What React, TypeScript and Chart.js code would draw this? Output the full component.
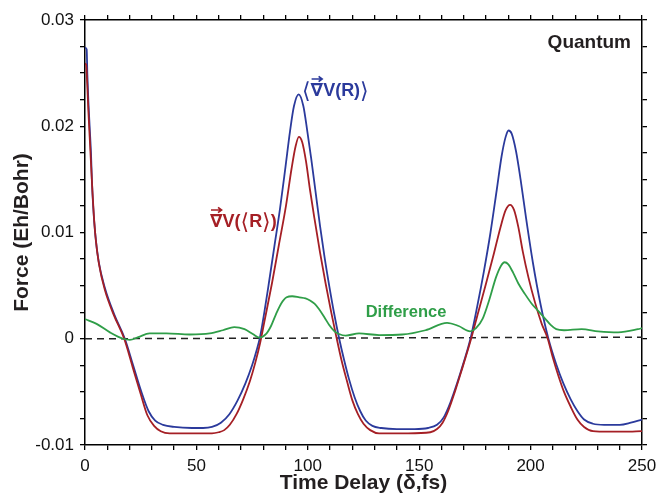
import { useEffect, useRef } from 'react';
import { Chart, registerables } from 'chart.js';

Chart.register(...registerables);

// Time axis (fs) and force values (Eh/Bohr)
const blueT = [0, 0.75, 1.05, 1.5, 2.1, 2.7, 3.1, 3.7, 4.6, 6.1, 8.9, 13.1, 17.9, 21.6, 25.3, 28.5, 31.5, 35, 40, 48, 53, 57, 61, 64.8, 68.5, 72, 75, 77, 78.6, 80.5, 82.5, 85, 87.5, 90, 92, 93.8, 95.9, 98, 99.8, 101.5, 103.5, 105.5, 107.5, 109.6, 111.8, 114, 116.3, 118.5, 121, 123.5, 126, 129, 133, 140, 148, 154, 158, 161, 164, 167, 170, 173, 176, 179, 182, 184.8, 187, 188.8, 190.1, 191.5, 193.5, 195.5, 198, 201, 204.5, 208, 211.5, 214.7, 218, 221, 224, 228, 233, 240, 245, 250];
const blueV = [0.0274, 0.02725, 0.0249, 0.0224, 0.0199, 0.0174, 0.0149, 0.01235, 0.00985, 0.0073, 0.0048, 0.0023, 0, -0.0025, -0.005, -0.0068, -0.0077, -0.0081, -0.0083, -0.0084, -0.0084, -0.0083, -0.0079, -0.0071, -0.0058, -0.0042, -0.0025, -0.0011, 0.0002, 0.0025, 0.0052, 0.0087, 0.0122, 0.0162, 0.0195, 0.0219, 0.023, 0.0219, 0.0195, 0.017, 0.0138, 0.0106, 0.0077, 0.005, 0.0024, 0.0001, -0.002, -0.0038, -0.0055, -0.0068, -0.0077, -0.0082, -0.0084, -0.0085, -0.0085, -0.0084, -0.0081, -0.0074, -0.006, -0.0042, -0.0022, 0, 0.003, 0.0063, 0.01, 0.014, 0.0172, 0.019, 0.0196, 0.0193, 0.0176, 0.015, 0.0113, 0.0072, 0.0032, 0, -0.0024, -0.0042, -0.0057, -0.0068, -0.0076, -0.008, -0.0081, -0.0081, -0.0079, -0.0076];

const redT = [0, 0.5, 1.0, 1.5, 2.1, 2.7, 3.3, 4.0, 4.9, 6.3, 8.9, 13, 17.6, 21.3, 25, 28, 31, 34, 38, 50, 57, 60, 62.5, 65, 68, 71, 74, 76.5, 78.6, 80.5, 83.9, 87, 90.2, 92.7, 94.5, 96, 97.5, 99.2, 101, 103, 105.5, 108, 110.5, 112.7, 115, 117.6, 120, 122.5, 125, 128, 132, 145, 155, 158, 160.5, 163, 166, 169, 173.3, 176.5, 180, 183.5, 186.5, 188.8, 190.8, 192.6, 194.5, 196.5, 199, 202, 205, 207.7, 210, 212.5, 215, 218, 221, 224, 228, 235, 242, 250];
const redV = [0.0259, 0.0258, 0.024, 0.0215, 0.019, 0.0165, 0.014, 0.0115, 0.0092, 0.007, 0.0046, 0.0022, 0, -0.0026, -0.0052, -0.0072, -0.0082, -0.0087, -0.0089, -0.0089, -0.0089, -0.0088, -0.0086, -0.0081, -0.0071, -0.0057, -0.004, -0.0022, -0.0004, 0.0016, 0.0052, 0.0088, 0.0125, 0.016, 0.0181, 0.019, 0.0185, 0.0167, 0.014, 0.0113, 0.0081, 0.0052, 0.0025, 0.0003, -0.0019, -0.004, -0.0058, -0.0071, -0.008, -0.0086, -0.0089, -0.0089, -0.0088, -0.0085, -0.0079, -0.0068, -0.005, -0.003, 0, 0.0025, 0.0052, 0.008, 0.0105, 0.0121, 0.0126, 0.0121, 0.0105, 0.0082, 0.0058, 0.0034, 0.0014, 0, -0.0018, -0.0035, -0.005, -0.0064, -0.0076, -0.0083, -0.0087, -0.00875, -0.00875, -0.0087];

const diffT = [0, 5.2, 11.2, 17.1, 20.1, 23.9, 29, 36.5, 47, 56, 61.9, 67, 71.6, 75.3, 78.3, 81.3, 83.5, 85.7, 88, 90.5, 93, 96.2, 99, 101, 103, 105, 107.5, 109.6, 112, 114, 117, 123, 132, 142.4, 152.8, 162.5, 167.7, 172.9, 175.5, 178.5, 181.5, 184.5, 186.8, 188.3, 190, 192.2, 194.5, 197.5, 200.5, 203.5, 206.5, 209, 211.5, 215, 222.9, 230.3, 239.3, 248.2, 250];
const diffV = [0.00185, 0.0014, 0.0006, 0, -0.0001, 0.00015, 0.0005, 0.0005, 0.0004, 0.0005, 0.0008, 0.0011, 0.0009, 0.00045, 0.0001, 0.00045, 0.0012, 0.0023, 0.0033, 0.0039, 0.004, 0.0039, 0.0038, 0.0036, 0.0033, 0.0028, 0.002, 0.0013, 0.0007, 0.00045, 0.0003, 0.0005, 0.00035, 0.0004, 0.0008, 0.0015, 0.0012, 0.0007, 0.001, 0.0019, 0.0037, 0.0058, 0.0069, 0.0072, 0.007, 0.0062, 0.0052, 0.0042, 0.0033, 0.0026, 0.0019, 0.0013, 0.0009, 0.0008, 0.0009, 0.0007, 0.0006, 0.0009, 0.001];

const zeroT = [0, 250];
const zeroV = [0, 0.00015];

const xTickLabels = [0, 50, 100, 150, 200, 250];
const yTickLabels = [-0.01, 0, 0.01, 0.02, 0.03];

const FONT = '"Liberation Sans", Arial, Helvetica, sans-serif';
const BLUE = '#2b3a9c';
const RED = '#a51f25';
const GREEN = '#2f9e48';
const TEXT = '#231f20';

function pts(t: number[], v: number[]) {
  return t.map((x, i) => ({ x, y: v[i] }));
}

type Seg = { s: string; f: string; arrow?: boolean; dy?: number };

function richLabel(ctx: CanvasRenderingContext2D, x: number, base: number, segs: Seg[], color: string) {
  ctx.fillStyle = color;
  ctx.strokeStyle = color;
  ctx.textBaseline = 'alphabetic';
  ctx.textAlign = 'left';
  let cx = x;
  for (const seg of segs) {
    ctx.font = seg.f;
    ctx.fillText(seg.s, cx, base + (seg.dy || 0));
    const w = ctx.measureText(seg.s).width;
    if (seg.arrow) {
      const ay = base - 17;
      const ax0 = cx + 1;
      const ax1 = cx + w - 1;
      ctx.lineWidth = 1.7;
      ctx.beginPath();
      ctx.moveTo(ax0, ay);
      ctx.lineTo(ax1, ay);
      ctx.moveTo(ax1 - 3.5, ay - 2.7);
      ctx.lineTo(ax1, ay);
      ctx.lineTo(ax1 - 3.5, ay + 2.7);
      ctx.stroke();
    }
    cx += w;
  }
}

const B18 = `bold 18px ${FONT}`;
const NAB = 'bold 18px "DejaVu Sans", sans-serif';
const BRK = '22px "DejaVu Sans", sans-serif';

const textPlugin = {
  id: 'textPlugin',
  afterDraw(chart: any) {
    const ctx: CanvasRenderingContext2D = chart.ctx;
    const area = chart.chartArea;
    ctx.save();
    ctx.font = `bold 19px ${FONT}`;
    ctx.fillStyle = TEXT;
    ctx.textAlign = 'right';
    ctx.textBaseline = 'middle';
    ctx.fillText('Quantum', 631, 43);
    ctx.font = `bold 16.5px ${FONT}`;
    ctx.fillStyle = GREEN;
    ctx.textAlign = 'center';
    ctx.fillText('Difference', 406, 312);
    richLabel(ctx, 302, 96, [
      { s: '⟨', f: BRK, dy: 1.5 },
      { s: '∇', f: NAB, arrow: true },
      { s: 'V(R)', f: B18 },
      { s: '⟩', f: BRK, dy: 1.5 },
    ], BLUE);
    richLabel(ctx, 210, 227, [
      { s: '∇', f: NAB, arrow: true },
      { s: 'V(', f: B18 },
      { s: '⟨', f: BRK, dy: 1.5 },
      { s: 'R', f: B18 },
      { s: '⟩', f: BRK, dy: 1.5 },
      { s: ')', f: B18 },
    ], RED);
    ctx.fillStyle = TEXT;
    ctx.font = `bold 21px ${FONT}`;
    ctx.textAlign = 'center';
    ctx.textBaseline = 'middle';
    ctx.fillText('Time Delay (δ,fs)', (area.left + area.right) / 2, 483);
    ctx.save();
    ctx.translate(22, (area.top + area.bottom) / 2);
    ctx.rotate(-Math.PI / 2);
    ctx.fillText('Force (Eh/Bohr)', 0, 0);
    ctx.restore();
    ctx.restore();
  },
};

export default function App() {
  const ref = useRef<HTMLCanvasElement | null>(null);
  useEffect(() => {
    if (!ref.current) return;
    const tickFont = { family: FONT, size: 17 };
    const grid = { drawOnChartArea: false, drawTicks: true, tickLength: 5, color: '#000', lineWidth: 1.3 };
    const border = { display: true, color: '#000', width: 1.5 };
    const line = { borderWidth: 1.8, pointRadius: 0, cubicInterpolationMode: 'monotone', fill: false };
    const chart = new Chart(ref.current, {
      type: 'line',
      data: {
        datasets: [
          { label: 'Difference', data: pts(diffT, diffV), borderColor: GREEN, ...line },
          { label: 'red', data: pts(redT, redV), borderColor: RED, ...line },
          { label: 'blue', data: pts(blueT, blueV), borderColor: BLUE, ...line },
          { label: 'zero', data: pts(zeroT, zeroV), borderColor: '#222', borderWidth: 1.5, borderDash: [7, 5], pointRadius: 0, fill: false },
        ],
      },
      options: {
        responsive: false,
        animation: false,
        events: [],
        layout: { padding: 0 },
        plugins: { legend: { display: false }, tooltip: { enabled: false } },
        scales: {
          x: {
            type: 'linear', position: 'bottom', min: 0, max: 250,
            ticks: {
              stepSize: 10, autoSkip: false, maxRotation: 0, padding: 6, color: '#111', font: tickFont,
              callback: (v: any) => (xTickLabels.includes(Number(v)) ? String(v) : ''),
            },
            grid, border,
            afterFit: (s: any) => { s.height = 48; s.paddingLeft = 0; s.paddingRight = 0; },
          },
          x2: {
            type: 'linear', position: 'top', min: 0, max: 250,
            ticks: { stepSize: 10, autoSkip: false, display: false },
            grid, border,
            afterFit: (s: any) => { s.height = 20; s.paddingLeft = 0; s.paddingRight = 0; },
          },
          y: {
            type: 'linear', position: 'left', min: -0.01, max: 0.03,
            ticks: {
              stepSize: 0.0025, autoSkip: false, padding: 6, color: '#111', font: tickFont,
              callback: (v: any) => {
                const match = yTickLabels.find((t) => Math.abs(t - Number(v)) < 1e-9);
                if (match === undefined) return '';
                return match === 0 ? '0' : match.toFixed(2);
              },
            },
            grid, border,
            afterFit: (s: any) => { s.width = 85; s.paddingTop = 0; s.paddingBottom = 0; },
          },
          y2: {
            type: 'linear', position: 'right', min: -0.01, max: 0.03,
            ticks: { stepSize: 0.0025, autoSkip: false, display: false },
            grid, border,
            afterFit: (s: any) => { s.width = 14; s.paddingTop = 0; s.paddingBottom = 0; },
          },
        },
      } as any,
      plugins: [textPlugin],
    });
    return () => chart.destroy();
  }, []);
  return (
    <div style={{ position: 'absolute', left: 0, top: 0, width: 656, height: 493, background: '#fff' }}>
      <canvas ref={ref} width={656} height={493} style={{ width: 656, height: 493, display: 'block' }} />
    </div>
  );
}
